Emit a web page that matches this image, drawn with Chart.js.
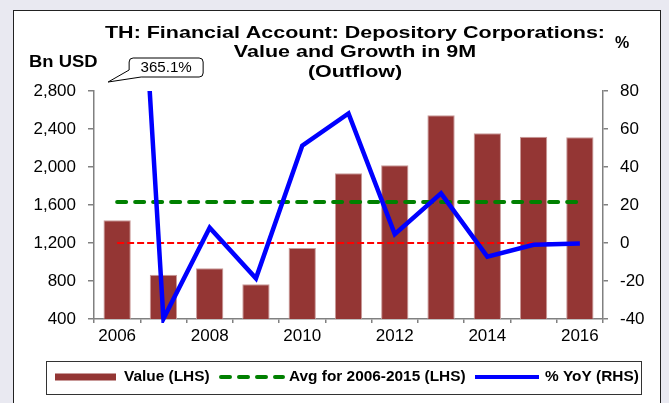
<!DOCTYPE html>
<html><head><meta charset="utf-8">
<script src="https://cdn.jsdelivr.net/npm/chart.js@4/dist/chart.umd.min.js"></script>
<style>html,body{margin:0;padding:0;background:#e9e9f1;} canvas{display:block;}</style>
</head><body>
<canvas id="c" width="669" height="403"></canvas>
<script>
// ---- data ----
const categories = ['2006','2007','2008','2009','2010','2011','2012','2013','2014','2015','2016'];
const valueLHS   = [1440, 866, 933, 765, 1147, 1933, 2018, 2544, 2354, 2319, 2312];
const avgLHS     = [1632, 1632, 1632, 1632, 1632, 1632, 1632, 1632, 1632, 1632, 1632];
const yoyRHS     = [365.1, -39.9, 8.1, -18.6, 51.2, 68.2, 4.7, 26.1, -7.2, -0.9, -0.2];
const zeroRHS    = [0, 0, 0, 0, 0, 0, 0, 0, 0, 0, 0];
const leftTicks  = [400, 800, 1200, 1600, 2000, 2400, 2800];
const rightTicks = [-40, -20, 0, 20, 40, 60, 80];
const titleLines = ['TH: Financial Account: Depository Corporations:', 'Value and Growth in 9M', '(Outflow)'];
const seriesNames = ['Value (LHS)', 'Avg for 2006-2015 (LHS)', '% YoY (RHS)'];

const FONT = "'Liberation Sans', Arial, Helvetica, sans-serif";
Chart.defaults.font.family = FONT;
Chart.defaults.color = '#000';

function sText(ctx, text, x, y, font, align, sx, color) {
  ctx.save();
  ctx.font = font; ctx.fillStyle = color || '#000';
  ctx.textBaseline = 'middle'; ctx.textAlign = align;
  ctx.translate(x, y); ctx.scale(sx, 1); ctx.fillText(text, 0, 0);
  ctx.restore();
}

const decor = {
  id: 'decor',
  beforeDraw(chart) {
    const ctx = chart.ctx;
    ctx.save();
    ctx.fillStyle = '#e9e9f1'; ctx.fillRect(0, 0, 669, 403);
    ctx.fillStyle = '#ffffff'; ctx.fillRect(13, 10, 648, 400);
    ctx.strokeStyle = '#222'; ctx.lineWidth = 1;
    ctx.strokeRect(13.5, 10.5, 647, 400);
    ctx.restore();
  },
  afterDraw(chart) {
    const ctx = chart.ctx;
    const ca = chart.chartArea;
    const xs = chart.scales.x;
    // title
    const tFont = 'bold 17px ' + FONT;
    ctx.save(); ctx.font = tFont;
    const sx = 500 / ctx.measureText(titleLines[0]).width;
    ctx.restore();
    const cx = 355;
    titleLines.forEach((t, i) => sText(ctx, t, cx, 33 + i * 19.5, tFont, 'center', sx));
    // axis unit labels
    sText(ctx, 'Bn USD', 29, 63, 'bold 16px ' + FONT, 'left', 1.15);
    sText(ctx, '%', 615, 44, 'bold 16px ' + FONT, 'left', 1.0);
    // callout for off-scale value
    const x0 = xs.getPixelForValue(0);
    const tipX = x0 - 9, tipY = ca.top - 9;
    const bl = x0 + 12, br = x0 + 86, bt = ca.top - 33, bb = ca.top - 14, r = 4;
    ctx.save();
    ctx.beginPath();
    ctx.moveTo(bl + r, bt);
    ctx.lineTo(br - r, bt); ctx.quadraticCurveTo(br, bt, br, bt + r);
    ctx.lineTo(br, bb - r); ctx.quadraticCurveTo(br, bb, br - r, bb);
    ctx.lineTo(bl + 12, bb);
    ctx.lineTo(tipX, tipY);
    ctx.lineTo(bl, bb - 7);
    ctx.lineTo(bl, bt + r); ctx.quadraticCurveTo(bl, bt, bl + r, bt);
    ctx.closePath();
    ctx.fillStyle = '#fff'; ctx.fill();
    ctx.strokeStyle = '#000'; ctx.lineWidth = 1; ctx.stroke();
    ctx.restore();
    sText(ctx, yoyRHS[0].toFixed(1) + '%', (bl + br) / 2, (bt + bb) / 2 + 0.5, '14px ' + FONT, 'center', 1.08);
    // legend
    const ly = 377;
    ctx.save();
    ctx.fillStyle = '#fff'; ctx.fillRect(46, 361, 595, 33);
    ctx.strokeStyle = '#333'; ctx.lineWidth = 1; ctx.strokeRect(46.5, 361.5, 595, 33);
    const ds = chart.data.datasets;
    const items = [
      {d: ds[0], x1: 55, x2: 116, tx: 124, lw: 7, dash: [], cap: 'butt'},
      {d: ds[1], x1: 221, x2: 283, tx: 289, lw: 4, dash: [9, 9], cap: 'round'},
      {d: ds[2], x1: 475, x2: 539, tx: 545, lw: 4, dash: [], cap: 'butt'}
    ];
    items.forEach(it => {
      ctx.save();
      ctx.beginPath();
      ctx.strokeStyle = it.d.type === 'bar' ? it.d.backgroundColor : it.d.borderColor;
      ctx.lineWidth = it.lw; ctx.setLineDash(it.dash); ctx.lineCap = it.cap;
      ctx.moveTo(it.x1, ly); ctx.lineTo(it.x2, ly); ctx.stroke();
      ctx.restore();
      sText(ctx, it.d.label, it.tx, ly + 0.5, 'bold 14px ' + FONT, 'left', 1.1);
    });
    ctx.restore();
  }
};

new Chart(document.getElementById('c'), {
  data: {
    labels: categories,
    datasets: [
      {type: 'bar', label: seriesNames[0], data: valueLHS, yAxisID: 'y',
       backgroundColor: '#943634', borderColor: '#c99a99', borderWidth: 1,
       categoryPercentage: 1.0, barPercentage: 0.59, order: 4},
      {type: 'line', label: seriesNames[1], data: avgLHS, yAxisID: 'y',
       borderColor: '#008000', borderWidth: 4, borderDash: [9, 9], borderCapStyle: 'round',
       pointRadius: 0, tension: 0, order: 2},
      {type: 'line', label: seriesNames[2], data: yoyRHS, yAxisID: 'y1',
       borderColor: '#0000ff', borderWidth: 4.5, pointRadius: 0, tension: 0,
       clip: {left: 0, right: 0, top: 0, bottom: 4}, order: 1},
      {type: 'line', label: 'zero', data: zeroRHS, yAxisID: 'y1',
       borderColor: '#ff0000', borderWidth: 1.8, borderDash: [7, 3],
       pointRadius: 0, tension: 0, order: 3}
    ]
  },
  options: {
    responsive: false,
    animation: false,
    events: [],
    layout: {padding: {left: 0, right: 0, top: 91, bottom: 50}},
    plugins: {legend: {display: false}, title: {display: false}, tooltip: {enabled: false}},
    scales: {
      x: {
        type: 'category',
        offset: true,
        grid: {offset: true, drawOnChartArea: false, drawTicks: true, tickLength: 4, color: '#808080', lineWidth: 1.5},
        border: {display: true, color: '#808080', width: 1.5},
        ticks: {autoSkip: false, maxRotation: 0, padding: 3, font: {size: 17}, color: '#000',
                callback: (v, i) => (i % 2 === 0 ? categories[i] : '')},
        afterFit: s => { s.height = 34; }
      },
      y: {
        position: 'left',
        min: leftTicks[0], max: leftTicks[leftTicks.length - 1],
        afterBuildTicks: s => { s.ticks = leftTicks.map(v => ({value: v})); },
        grid: {drawOnChartArea: false, drawTicks: true, tickLength: 6, color: '#808080', lineWidth: 1.5},
        border: {display: true, color: '#808080', width: 1.5},
        ticks: {padding: 12, font: {size: 17}, color: '#000', callback: v => v.toLocaleString('en-US')},
        afterFit: s => { s.width = 94; }
      },
      y1: {
        position: 'right',
        min: rightTicks[0], max: rightTicks[rightTicks.length - 1],
        afterBuildTicks: s => { s.ticks = rightTicks.map(v => ({value: v})); },
        grid: {drawOnChartArea: false, drawTicks: true, tickLength: 5, color: '#808080', lineWidth: 1.5},
        border: {display: true, color: '#808080', width: 1.5},
        ticks: {padding: 12, font: {size: 17}, color: '#000'},
        afterFit: s => { s.width = 66; }
      }
    }
  },
  plugins: [decor]
});
</script>
</body></html>
